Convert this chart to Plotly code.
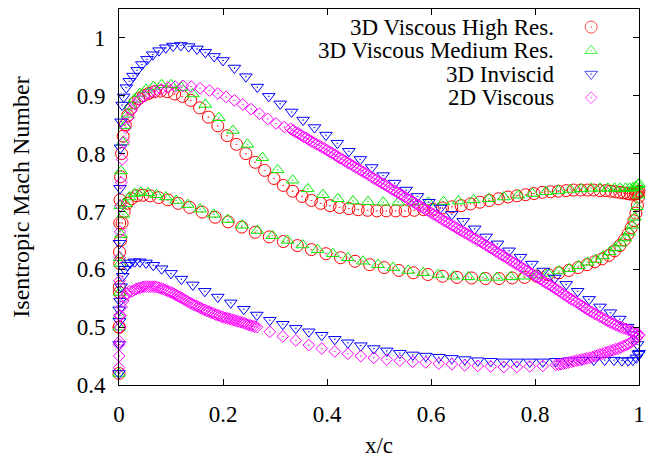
import plotly.graph_objects as go

# ---------------- data ----------------
# 3D Viscous High Res. : suction side
hi_up_x = [0.0, 0.0003, 0.0006, 0.001, 0.0015, 0.002, 0.003, 0.005, 0.008, 0.012, 0.017, 0.023, 0.03, 0.038,
           0.047, 0.057, 0.068, 0.08, 0.093, 0.107, 0.122, 0.138, 0.155, 0.172, 0.19, 0.208, 0.226, 0.244,
           0.262, 0.28, 0.298, 0.316, 0.334, 0.352, 0.37, 0.388, 0.406, 0.424, 0.442, 0.46, 0.478, 0.496,
           0.514, 0.532, 0.55, 0.568, 0.586, 0.604, 0.622, 0.64, 0.658, 0.676, 0.694, 0.712, 0.73, 0.748,
           0.765, 0.782, 0.798, 0.814, 0.83, 0.845, 0.86, 0.874, 0.888, 0.901, 0.913, 0.925, 0.936, 0.946,
           0.955, 0.963, 0.971, 0.978, 0.984, 0.989, 0.993, 0.996, 0.998, 1.0]
hi_up_m = [0.42, 0.5, 0.57, 0.63, 0.68, 0.72, 0.76, 0.8, 0.83, 0.85, 0.866, 0.878, 0.888, 0.895,
           0.9, 0.904, 0.907, 0.908, 0.907, 0.903, 0.899, 0.892, 0.879, 0.863, 0.848, 0.831, 0.816, 0.8,
           0.785, 0.771, 0.757, 0.745, 0.735, 0.726, 0.719, 0.714, 0.71, 0.707, 0.705, 0.703, 0.702, 0.701,
           0.701, 0.701, 0.701, 0.702, 0.703, 0.704, 0.706, 0.708, 0.71, 0.713, 0.716, 0.719, 0.722, 0.725,
           0.727, 0.729, 0.731, 0.733, 0.734, 0.735, 0.736, 0.737, 0.737, 0.737, 0.737, 0.736, 0.736, 0.735,
           0.734, 0.733, 0.732, 0.731, 0.73, 0.73, 0.73, 0.731, 0.733, 0.735]
# 3D Viscous High Res. : pressure side
hi_lo_x = [0.0003, 0.0008, 0.0015, 0.003, 0.006, 0.01, 0.016, 0.024, 0.034, 0.046, 0.06, 0.076, 0.094,
           0.114, 0.136, 0.16, 0.185, 0.21, 0.236, 0.262, 0.289, 0.316, 0.343, 0.37, 0.398, 0.426, 0.454,
           0.482, 0.51, 0.538, 0.566, 0.594, 0.622, 0.65, 0.678, 0.705, 0.731, 0.756, 0.78, 0.803, 0.825,
           0.846, 0.865, 0.883, 0.9, 0.915, 0.929, 0.942, 0.953, 0.963, 0.972, 0.979, 0.985, 0.99, 0.994,
           0.997, 0.999]
hi_lo_m = [0.5, 0.56, 0.61, 0.65, 0.68, 0.7, 0.714, 0.722, 0.727, 0.728, 0.727, 0.724, 0.72,
           0.714, 0.707, 0.699, 0.69, 0.682, 0.673, 0.664, 0.656, 0.648, 0.641, 0.634, 0.627, 0.62, 0.614,
           0.608, 0.603, 0.598, 0.594, 0.591, 0.588, 0.586, 0.585, 0.584, 0.584, 0.585, 0.586, 0.588, 0.591,
           0.594, 0.598, 0.603, 0.608, 0.613, 0.618, 0.624, 0.632, 0.641, 0.651, 0.661, 0.672, 0.684, 0.697,
           0.711, 0.725]

# 3D Viscous Medium Res. : suction side
med_up_x = [0.0, 0.0004, 0.001, 0.002, 0.004, 0.007, 0.011, 0.016, 0.022, 0.03, 0.04, 0.052, 0.066, 0.082,
            0.1, 0.12, 0.142, 0.166, 0.192, 0.219, 0.247, 0.276, 0.305, 0.334, 0.363, 0.392, 0.421, 0.45,
            0.479, 0.508, 0.537, 0.566, 0.595, 0.624, 0.653, 0.682, 0.711, 0.74, 0.768, 0.795, 0.821, 0.845,
            0.868, 0.889, 0.908, 0.925, 0.94, 0.953, 0.964, 0.974, 0.982, 0.989, 0.994, 0.998, 1.0]
med_up_m = [0.42, 0.52, 0.62, 0.71, 0.77, 0.82, 0.848, 0.868, 0.882, 0.894, 0.904, 0.911, 0.916, 0.919,
            0.919, 0.914, 0.903, 0.885, 0.862, 0.84, 0.816, 0.793, 0.772, 0.754, 0.739, 0.729, 0.722, 0.718,
            0.717, 0.716, 0.716, 0.716, 0.716, 0.717, 0.718, 0.72, 0.722, 0.725, 0.728, 0.731, 0.734, 0.736,
            0.738, 0.739, 0.74, 0.74, 0.74, 0.74, 0.74, 0.74, 0.74, 0.741, 0.743, 0.746, 0.748]
# 3D Viscous Medium Res. : pressure side
med_lo_x = [0.0004, 0.001, 0.002, 0.004, 0.008, 0.013, 0.02, 0.03, 0.042, 0.056, 0.072, 0.09, 0.11, 0.132,
            0.156, 0.182, 0.209, 0.237, 0.266, 0.295, 0.324, 0.353, 0.382, 0.411, 0.44, 0.469, 0.498, 0.527,
            0.556, 0.585, 0.614, 0.643, 0.672, 0.7, 0.727, 0.753, 0.778, 0.802, 0.825, 0.846, 0.866, 0.884,
            0.901, 0.917, 0.931, 0.944, 0.955, 0.965, 0.974, 0.981, 0.987, 0.992, 0.996, 0.999]
med_lo_m = [0.5, 0.56, 0.61, 0.66, 0.695, 0.713, 0.725, 0.731, 0.733, 0.732, 0.729, 0.725, 0.719, 0.712,
            0.704, 0.695, 0.686, 0.676, 0.667, 0.658, 0.65, 0.642, 0.634, 0.627, 0.62, 0.614, 0.608, 0.603,
            0.598, 0.594, 0.591, 0.588, 0.587, 0.586, 0.586, 0.587, 0.588, 0.59, 0.593, 0.597, 0.601, 0.606,
            0.612, 0.617, 0.623, 0.63, 0.637, 0.645, 0.654, 0.664, 0.676, 0.69, 0.708, 0.728]

# 3D Inviscid : suction side
inv_up_x = [0.0, 0.0003, 0.001, 0.002, 0.003, 0.004, 0.006, 0.009, 0.014, 0.02, 0.027, 0.035, 0.044, 0.054,
            0.065, 0.077, 0.09, 0.104, 0.119, 0.134, 0.15, 0.166, 0.183, 0.2, 0.222, 0.244, 0.266, 0.288,
            0.31, 0.332, 0.354, 0.376, 0.398, 0.42, 0.442, 0.464, 0.486, 0.508, 0.53, 0.552, 0.574, 0.596,
            0.618, 0.64, 0.662, 0.684, 0.706, 0.728, 0.75, 0.772, 0.794, 0.816, 0.838, 0.86, 0.882, 0.904,
            0.925, 0.945, 0.963, 0.978, 0.99, 0.997, 1.0]
inv_up_m = [0.42, 0.53, 0.645, 0.74, 0.81, 0.855, 0.884, 0.898, 0.914, 0.925, 0.934, 0.944, 0.954, 0.963,
            0.971, 0.978, 0.983, 0.986, 0.987, 0.985, 0.981, 0.975, 0.968, 0.961, 0.948, 0.933, 0.915, 0.899,
            0.886, 0.872, 0.858, 0.845, 0.832, 0.818, 0.804, 0.79, 0.776, 0.762, 0.749, 0.737, 0.726, 0.716,
            0.706, 0.695, 0.683, 0.67, 0.656, 0.644, 0.632, 0.621, 0.609, 0.597, 0.585, 0.574, 0.562, 0.548,
            0.535, 0.525, 0.514, 0.5, 0.487, 0.47, 0.455]
# 3D Inviscid : pressure side
inv_lo_x = [0.0003, 0.001, 0.002, 0.004, 0.007, 0.011, 0.016, 0.022, 0.03, 0.04, 0.052, 0.066, 0.082, 0.1,
            0.12, 0.142, 0.165, 0.19, 0.215, 0.24, 0.265, 0.29, 0.315, 0.34, 0.365, 0.39, 0.415, 0.44, 0.465,
            0.49, 0.515, 0.54, 0.565, 0.59, 0.615, 0.64, 0.665, 0.69, 0.715, 0.74, 0.765, 0.79, 0.815, 0.84,
            0.865, 0.89, 0.913, 0.934, 0.952, 0.967, 0.979, 0.988, 0.995, 0.999]
inv_lo_m = [0.47, 0.51, 0.545, 0.57, 0.588, 0.6, 0.607, 0.611, 0.613, 0.613, 0.611, 0.607, 0.601, 0.593,
            0.583, 0.573, 0.562, 0.552, 0.542, 0.531, 0.521, 0.512, 0.505, 0.498, 0.492, 0.486, 0.479, 0.473,
            0.468, 0.463, 0.459, 0.455, 0.452, 0.45, 0.448, 0.446, 0.444, 0.442, 0.441, 0.44, 0.44, 0.44,
            0.44, 0.441, 0.442, 0.443, 0.443, 0.443, 0.443, 0.442, 0.442, 0.443, 0.447, 0.453]

# 2D Viscous : suction side
v2d_up_x = [0.0, 0.0002, 0.0005, 0.001, 0.0015, 0.002, 0.003, 0.004, 0.006, 0.009, 0.013, 0.018, 0.024,
            0.031, 0.039, 0.048, 0.058, 0.069, 0.081, 0.094, 0.108, 0.123, 0.139, 0.156, 0.174, 0.19, 0.206,
            0.222, 0.238, 0.254, 0.27, 0.286, 0.302, 0.318,
            0.33, 0.335, 0.34, 0.345, 0.35, 0.355, 0.36, 0.365, 0.37, 0.375, 0.38, 0.385, 0.39, 0.395,
            0.4, 0.405, 0.41, 0.415, 0.42, 0.425, 0.43, 0.435, 0.44, 0.445, 0.45, 0.455, 0.46, 0.465,
            0.47, 0.475, 0.48, 0.485, 0.49, 0.495, 0.5, 0.505, 0.51, 0.515, 0.52, 0.525, 0.53, 0.535,
            0.54, 0.545, 0.55, 0.555, 0.56, 0.565, 0.57, 0.575, 0.58, 0.585, 0.59, 0.595, 0.6, 0.605,
            0.61, 0.615, 0.62, 0.625, 0.63, 0.635, 0.64, 0.645, 0.65, 0.655, 0.66, 0.665, 0.67, 0.675,
            0.68, 0.685, 0.69, 0.695, 0.7, 0.705, 0.71, 0.715, 0.72, 0.725, 0.73, 0.735, 0.74, 0.745,
            0.75, 0.755, 0.76, 0.765, 0.77, 0.775, 0.78, 0.785, 0.79, 0.795, 0.8, 0.805, 0.81, 0.815,
            0.82, 0.825, 0.83, 0.835, 0.84, 0.845, 0.85, 0.855, 0.86, 0.865, 0.87, 0.875, 0.88, 0.885,
            0.89, 0.895, 0.9, 0.905, 0.91, 0.915, 0.92, 0.925, 0.93, 0.935, 0.94, 0.945, 0.95, 0.955,
            0.96, 0.965, 0.97, 0.975, 0.98, 0.985, 0.99, 0.995, 1.0]
v2d_up_m = [0.43, 0.47, 0.52, 0.58, 0.62, 0.665, 0.71, 0.75, 0.79, 0.82, 0.845, 0.862, 0.875,
            0.885, 0.893, 0.899, 0.904, 0.908, 0.911, 0.914, 0.916, 0.917, 0.916, 0.913, 0.909, 0.904, 0.898,
            0.892, 0.885, 0.877, 0.869, 0.86, 0.852, 0.846,
            0.843, 0.840, 0.837, 0.835, 0.832, 0.829, 0.827, 0.824, 0.821, 0.819, 0.816, 0.814, 0.811, 0.809,
            0.806, 0.803, 0.801, 0.798, 0.795, 0.792, 0.790, 0.787, 0.784, 0.782, 0.779, 0.776, 0.774, 0.771,
            0.768, 0.766, 0.763, 0.760, 0.757, 0.755, 0.752, 0.749, 0.747, 0.744, 0.741, 0.738, 0.736, 0.733,
            0.730, 0.728, 0.725, 0.722, 0.720, 0.717, 0.714, 0.711, 0.709, 0.706, 0.703, 0.701, 0.698, 0.695,
            0.693, 0.690, 0.687, 0.684, 0.682, 0.679, 0.676, 0.674, 0.671, 0.668, 0.666, 0.663, 0.661, 0.658,
            0.655, 0.653, 0.650, 0.648, 0.645, 0.642, 0.639, 0.637, 0.634, 0.631, 0.628, 0.625, 0.623, 0.620,
            0.617, 0.614, 0.611, 0.609, 0.606, 0.603, 0.600, 0.597, 0.595, 0.592, 0.589, 0.586, 0.583, 0.580,
            0.577, 0.575, 0.572, 0.569, 0.566, 0.563, 0.560, 0.557, 0.554, 0.551, 0.548, 0.546, 0.543, 0.540,
            0.537, 0.534, 0.531, 0.528, 0.526, 0.523, 0.521, 0.518, 0.516, 0.513, 0.511, 0.508, 0.506, 0.504,
            0.502, 0.500, 0.498, 0.497, 0.495, 0.493, 0.491, 0.489, 0.487]
# 2D Viscous : pressure side
v2d_lo_x = [0.0003, 0.001, 0.002, 0.003, 0.005, 0.008, 0.011, 0.015, 0.02,
            0.025, 0.029, 0.033, 0.037, 0.041, 0.045, 0.049, 0.053, 0.057, 0.061, 0.065, 0.069, 0.073,
            0.077, 0.081, 0.085, 0.089, 0.093, 0.097, 0.101, 0.105, 0.109, 0.113, 0.117, 0.121, 0.125,
            0.129, 0.133, 0.137, 0.141, 0.145, 0.149, 0.153, 0.157, 0.161, 0.165, 0.169, 0.173, 0.177,
            0.181, 0.185, 0.189, 0.193, 0.197, 0.201, 0.205, 0.209, 0.213, 0.217, 0.221, 0.225, 0.229,
            0.233, 0.237, 0.241, 0.245, 0.249, 0.253, 0.257, 0.261, 0.265,
            0.29, 0.315, 0.34, 0.365, 0.39, 0.415, 0.44, 0.465, 0.49, 0.515, 0.54, 0.565, 0.59, 0.615,
            0.64, 0.665, 0.69, 0.715, 0.74, 0.765, 0.79, 0.815,
            0.84, 0.845, 0.85, 0.855, 0.86, 0.865, 0.87, 0.875, 0.88, 0.885, 0.89, 0.895, 0.9, 0.905,
            0.91, 0.915, 0.92, 0.925, 0.93, 0.935, 0.94, 0.945, 0.95, 0.955, 0.96, 0.965, 0.97, 0.975,
            0.98, 0.985, 0.99, 0.995, 1.0]
v2d_lo_m = [0.45, 0.475, 0.5, 0.52, 0.535, 0.545, 0.552, 0.558, 0.562,
            0.562, 0.564, 0.566, 0.567, 0.568, 0.569, 0.570, 0.570, 0.570, 0.570, 0.570, 0.570, 0.569,
            0.568, 0.567, 0.566, 0.564, 0.563, 0.561, 0.560, 0.558, 0.556, 0.554, 0.552, 0.550, 0.548,
            0.546, 0.544, 0.542, 0.540, 0.538, 0.537, 0.535, 0.533, 0.531, 0.530, 0.528, 0.527, 0.525,
            0.524, 0.522, 0.521, 0.520, 0.518, 0.517, 0.516, 0.515, 0.514, 0.513, 0.512, 0.511, 0.510,
            0.509, 0.508, 0.507, 0.505, 0.504, 0.503, 0.502, 0.501, 0.500,
            0.492, 0.484, 0.477, 0.469, 0.463, 0.458, 0.454, 0.45, 0.447, 0.444, 0.442, 0.44, 0.439, 0.437,
            0.436, 0.434, 0.433, 0.432, 0.431, 0.431, 0.432, 0.433,
            0.435, 0.435, 0.436, 0.437, 0.438, 0.439, 0.440, 0.441, 0.442, 0.443, 0.444, 0.445, 0.446, 0.447,
            0.448, 0.450, 0.451, 0.453, 0.454, 0.456, 0.457, 0.459, 0.460, 0.462, 0.463, 0.465, 0.467, 0.469,
            0.471, 0.474, 0.477, 0.481, 0.486]

series_names = ["3D Viscous High Res.", "3D Viscous Medium Res.", "3D Inviscid", "2D Viscous"]
series_colors = ["#ff0000", "#00ee00", "#0000ff", "#ff00ff"]
series_symbols = ["circle-open-dot", "triangle-up-open-dot", "triangle-down-open-dot", "diamond-open-dot"]
series_sizes = [12, 11, 11, 9]

x_ticks = [0, 0.2, 0.4, 0.6, 0.8, 1.0]
x_ticktext = ["0", "0.2", "0.4", "0.6", "0.8", "1"]
y_ticks = [0.4, 0.5, 0.6, 0.7, 0.8, 0.9, 1.0]
y_ticktext = ["0.4", "0.5", "0.6", "0.7", "0.8", "0.9", "1"]

series_x = [hi_up_x + hi_lo_x, med_up_x + med_lo_x, inv_up_x + inv_lo_x, v2d_up_x + v2d_lo_x]
series_y = [hi_up_m + hi_lo_m, med_up_m + med_lo_m, inv_up_m + inv_lo_m, v2d_up_m + v2d_lo_m]

FONT = "Liberation Serif"
FS = 23

fig = go.Figure()
for name, xs, ys, sym, col, sz in zip(series_names, series_x, series_y, series_symbols,
                                      series_colors, series_sizes):
    fig.add_trace(go.Scatter(
        x=xs, y=ys, mode="markers", name=name, showlegend=False, cliponaxis=False,
        marker=dict(symbol=sym, size=sz, color=col, line=dict(width=1, color=col)),
    ))

# gnuplot-style key: text right-aligned, symbol to the right
key_y = [0.952, 0.889, 0.827, 0.764]
fig.add_trace(go.Scatter(
    x=[0.908] * 4, y=key_y, xaxis="x2", yaxis="y2", mode="markers", showlegend=False,
    cliponaxis=False, hoverinfo="skip",
    marker=dict(symbol=series_symbols, size=series_sizes, color=series_colors,
                line=dict(width=1, color=series_colors)),
))
for name, ky in zip(series_names, key_y):
    fig.add_annotation(xref="paper", yref="paper", x=0.8385, y=ky, text=name, showarrow=False,
                       xanchor="right", yanchor="middle", borderpad=0,
                       font=dict(family=FONT, size=FS, color="black"))

axis_common = dict(showline=True, linecolor="black", linewidth=1, mirror="ticks", ticks="inside",
                   ticklen=6, tickcolor="black", showgrid=False, zeroline=False, automargin=False,
                   tickfont=dict(family=FONT, size=FS, color="black"))

fig.update_layout(
    width=656, height=458,
    margin=dict(l=119, r=17, t=9, b=73, autoexpand=False),
    paper_bgcolor="white", plot_bgcolor="white",
    xaxis=dict(range=[0, 1], tickvals=x_ticks, ticktext=x_ticktext, ticklabelstandoff=8,
               title=dict(text="x/c", font=dict(family=FONT, size=FS, color="black"), standoff=20),
               **axis_common),
    yaxis=dict(range=[0.4, 1.05], tickvals=y_ticks, ticktext=y_ticktext, ticklabelstandoff=8,
               title=dict(text="Isentropic Mach Number", font=dict(family=FONT, size=24, color="black"),
                          standoff=40),
               **axis_common),
    xaxis2=dict(range=[0, 1], overlaying="x", visible=False),
    yaxis2=dict(range=[0, 1], overlaying="y", visible=False),
    showlegend=False,
)

fig.write_html("out.html")
